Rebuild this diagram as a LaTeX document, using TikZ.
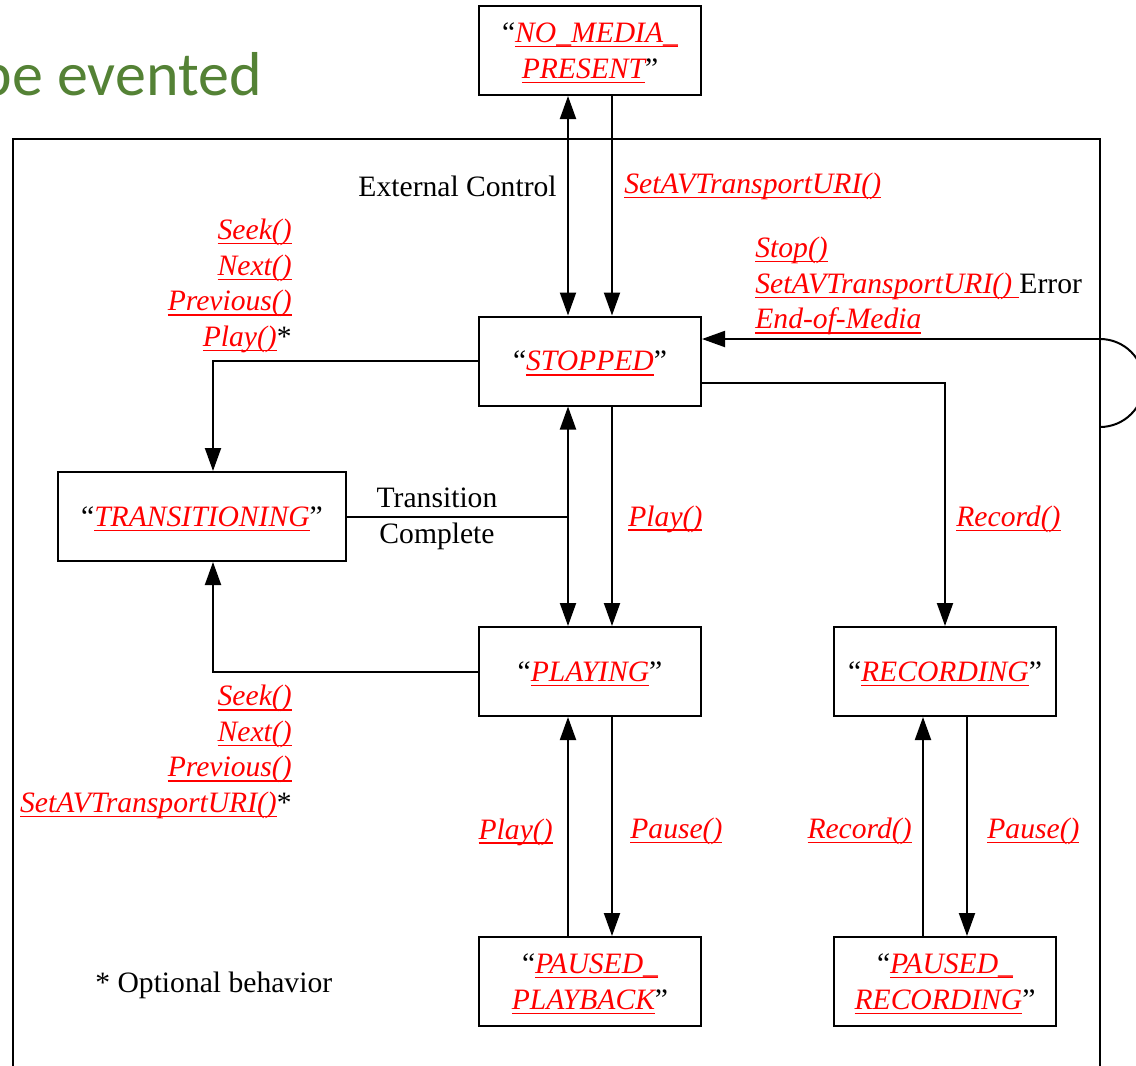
\documentclass[tikz,border=0pt]{standalone}
\usepackage{fontspec}
\setmainfont{Liberation Serif}
\newfontfamily\slidefont{Carlito}
\usepackage{xcolor}
\usepackage{tikz}
\usetikzlibrary{arrows.meta, positioning, calc}

\definecolor{slidegreen}{HTML}{548235}
\newsavebox{\actbox}
\newcommand{\actn}[1]{\sbox{\actbox}{\color{red}\itshape #1}{\color{red}\rlap{\rule[-2.4pt]{\wd\actbox}{0.7pt}}\usebox{\actbox}}}

\begin{document}
\begin{tikzpicture}[
    x=0.5pt, y=-0.5pt,
    every node/.style={font=\fontsize{14.8pt}{17.8pt}\selectfont},
    state/.style={draw, line width=1pt, minimum width=111pt, minimum height=44.5pt, align=center, inner sep=1pt, text depth=0pt},
    lbl/.style={inner sep=0pt, align=center},
    arrow/.style={-{Triangle[length=11.5pt,width=8pt]}, line width=1pt},
    biarrow/.style={{Triangle[length=11.5pt,width=8pt]}-{Triangle[length=11.5pt,width=8pt]}, line width=1pt}
]
\clip (0,0) rectangle (1136,1066);

% slide title remnant and outer frame
\node[anchor=base east, inner sep=0pt, text=slidegreen, font=\slidefont\fontsize{31pt}{36pt}\selectfont] (title) at (262,95) {be evented};
\draw[line width=1pt] (13,139) rectangle (1100,1120);

% states
\node[state] (nomedia) at (590,50.5) {``\actn{NO\_MEDIA\_}\\\actn{PRESENT}''};
\node[state] (stopped) at (590,361) {``\actn{STOPPED}''};
\node[state, minimum width=144pt] (trans) at (202,516.5) {``\actn{TRANSITIONING}''};
\node[state] (playing) at (590,671.5) {``\actn{PLAYING}''};
\node[state] (recording) at (945,671.5) {``\actn{RECORDING}''};
\node[state] (pplay) at (590,981.5) {``\actn{PAUSED\_}\\\actn{PLAYBACK}''};
\node[state] (prec) at (945,981.5) {``\actn{PAUSED\_}\\\actn{RECORDING}''};

% loop from the frame
\coordinate (loopa) at (1100,339);
\coordinate (loopb) at (1100,427);

% transitions
\draw[biarrow] ([xshift=-11pt]nomedia.south) -- ([xshift=-11pt]stopped.north);
\draw[arrow] ([xshift=11pt]nomedia.south) -- ([xshift=11pt]stopped.north);
\draw[arrow] (stopped.west) -| ([xshift=5.5pt]trans.north);
\draw[arrow] (playing.west) -| ([xshift=5.5pt]trans.south);
\draw[line width=1pt] (trans.east) -- ([xshift=-11pt]stopped.south |- trans.east);
\draw[biarrow] ([xshift=-11pt]stopped.south) -- ([xshift=-11pt]playing.north);
\draw[arrow] ([xshift=11pt]stopped.south) -- ([xshift=11pt]playing.north);
\draw[arrow] ([yshift=-11pt]stopped.east) -| (recording.north);
\draw[arrow] (loopa) -- ([yshift=11pt]stopped.east);
\draw[line width=1pt] (loopa) arc[start angle=90, end angle=-90, radius=22pt];
\draw[arrow] ([xshift=-11pt]pplay.north) -- ([xshift=-11pt]playing.south);
\draw[arrow] ([xshift=11pt]playing.south) -- ([xshift=11pt]pplay.north);
\draw[arrow] ([xshift=-11pt]prec.north) -- ([xshift=-11pt]recording.south);
\draw[arrow] ([xshift=11pt]recording.south) -- ([xshift=11pt]prec.north);

% labels
\node[lbl, anchor=east] (extctl) at (557,186) {External Control};
\node[lbl, anchor=west] (seturi) at (624,186) {\actn{SetAVTransportURI()}};
\node[lbl, anchor=east, align=right] (totrans) at (292,286) {\actn{Seek()}\\\actn{Next()}\\\actn{Previous()}\\\actn{Play()}*};
\node[lbl, anchor=west, align=left] (tostop) at (755,286) {\actn{Stop()}\\\actn{SetAVTransportURI() }Error\\\actn{End-of-Media}};
\node[lbl] (trdone) at (437,519) {Transition\\Complete};
\node[lbl, anchor=west] (play) at (628,519) {\actn{Play()}};
\node[lbl, anchor=west] (record) at (956,519) {\actn{Record()}};
\node[lbl, anchor=east, align=right] (fromplay) at (292,752) {\actn{Seek()}\\\actn{Next()}\\\actn{Previous()}\\\actn{SetAVTransportURI()}*};
\node[lbl, anchor=east] (resume) at (553,832) {\actn{Play()}};
\node[lbl, anchor=west] (pause) at (630,831) {\actn{Pause()}};
\node[lbl, anchor=east] (rerecord) at (912,831) {\actn{Record()}};
\node[lbl, anchor=west] (recpause) at (987,831) {\actn{Pause()}};
\node[lbl, anchor=west] (note) at (95,985) {* Optional behavior};
\end{tikzpicture}
\end{document}
